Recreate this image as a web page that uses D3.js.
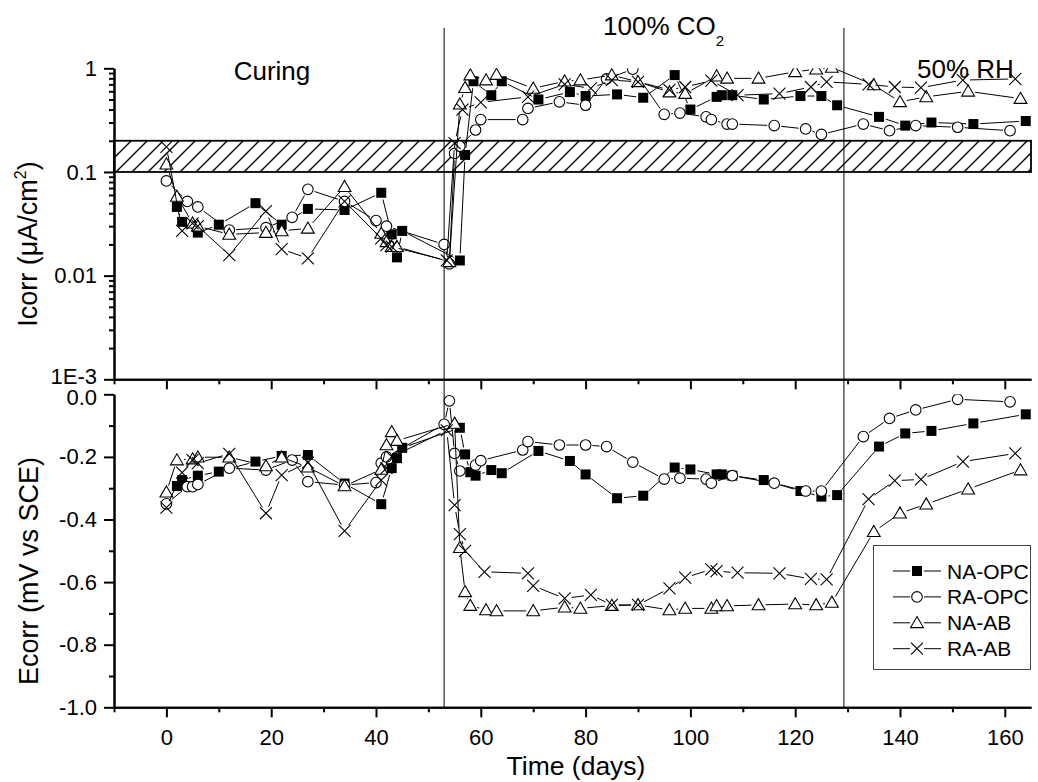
<!DOCTYPE html>
<html>
<head>
<meta charset="utf-8">
<script src="https://cdn.jsdelivr.net/npm/d3@7"></script>
<style>
  body { margin: 0; background: #fff; }
  svg text { font-family: "Liberation Sans", Arial, sans-serif; fill: #000; }
</style>
</head>
<body>
<div id="chart"></div>
<script>
// ---- data ----
var seriesNames = ["NA-OPC", "RA-OPC", "NA-AB", "RA-AB"];

var naOpcIDays = [2,3,6,10,17,22,27,34,41,43,44,45,56,57,58.6,62,64,71,77,80,86,91,97,100,105,106,108,114,121,125,128,136,141,146,154,164];
var naOpcI = [0.046,0.033,0.026,0.031,0.050,0.031,0.044,0.043,0.063,0.025,0.015,0.027,0.014,0.146,0.75,0.55,0.75,0.50,0.59,0.54,0.56,0.52,0.86,0.40,0.53,0.55,0.55,0.50,0.54,0.54,0.44,0.34,0.28,0.30,0.29,0.31];
var naOpcEDays = [2,3,6,10,17,22,27,34,41,43,44,45,56,57,58,59,62,64,71,77,80,86,91,97,100,105,106,108,114,121,125,128,136,141,146,154,164];
var naOpcE = [-0.293,-0.274,-0.26,-0.247,-0.215,-0.197,-0.194,-0.285,-0.351,-0.236,-0.204,-0.171,-0.107,-0.192,-0.249,-0.26,-0.242,-0.252,-0.181,-0.213,-0.256,-0.332,-0.324,-0.234,-0.24,-0.256,-0.256,-0.26,-0.274,-0.309,-0.327,-0.322,-0.167,-0.125,-0.117,-0.093,-0.064];

var raOpcIDays = [0,4,6,12,19,24,27,34,40,42,53,54,55,56,59,60,68,69,75,80,84,89,95,98,103,104,107,108,116,122,125,133,138,143,151,161];
var raOpcI = [0.082,0.052,0.046,0.0275,0.029,0.0365,0.068,0.052,0.034,0.030,0.020,0.013,0.151,0.177,0.254,0.32,0.32,0.41,0.475,0.44,0.79,0.98,0.36,0.37,0.34,0.32,0.29,0.29,0.28,0.26,0.23,0.29,0.25,0.28,0.27,0.25];
var raOpcEDays = [0,4,5,6,12,19,24,27,34,40,41,42,53,54,55,56,59,60,68,69,75,80,84,89,95,98,103,104,108,116,122,125,133,138,143,151,161];
var raOpcE = [-0.35,-0.295,-0.295,-0.288,-0.236,-0.242,-0.21,-0.279,-0.29,-0.282,-0.22,-0.2,-0.096,-0.021,-0.189,-0.245,-0.226,-0.212,-0.178,-0.151,-0.162,-0.162,-0.167,-0.217,-0.271,-0.268,-0.271,-0.284,-0.26,-0.284,-0.309,-0.309,-0.135,-0.077,-0.05,-0.016,-0.024];

var naAbIDays = [0,2,5,6,12,19,22,27,34,41,42,43,44,54,56,57,58,61,63,70,76,79,85,90,96,99,105,107,113,120,124,127,135,140,145,153,163];
var naAbI = [0.119,0.058,0.032,0.030,0.025,0.026,0.027,0.0286,0.072,0.0255,0.0212,0.019,0.019,0.0136,0.45,0.65,0.86,0.77,0.87,0.64,0.75,0.77,0.86,0.74,0.59,0.57,0.84,0.80,0.80,0.925,0.98,1.02,0.69,0.475,0.53,0.60,0.51];
var naAbEDays = [0,2,5,6,12,19,22,27,34,41,42,43,44,55,56,57,58,61,63,70,76,79,85,90,96,99,104,105,107,113,120,124,127,135,140,145,153,163];
var naAbE = [-0.313,-0.21,-0.207,-0.201,-0.201,-0.229,-0.201,-0.233,-0.293,-0.24,-0.162,-0.12,-0.148,-0.093,-0.49,-0.631,-0.675,-0.689,-0.692,-0.692,-0.68,-0.684,-0.675,-0.673,-0.689,-0.684,-0.684,-0.676,-0.676,-0.673,-0.67,-0.673,-0.665,-0.439,-0.38,-0.351,-0.303,-0.242];

var raAbIDays = [0,3,5,6,12,19,22,27,34,41,42,43,53.5,55,56.5,60,69,76,81,85,90,96,99,104,109,117,123,126,134,139,144,152,162];
var raAbI = [0.175,0.027,0.032,0.030,0.0158,0.042,0.018,0.0147,0.052,0.0229,0.0197,0.019,0.014,0.19,0.40,0.47,0.53,0.70,0.64,0.77,0.74,0.62,0.66,0.76,0.55,0.57,0.66,0.74,0.70,0.66,0.65,0.77,0.79];
var raAbEDays = [0,3,5,6,12,19,22,27,34,41,42,43,53.5,55,56,57,60.7,69,70,76,81,85,90,96,99,104,105,109,117,123,126,134,139,144,152,162];
var raAbE = [-0.362,-0.25,-0.21,-0.22,-0.19,-0.38,-0.258,-0.218,-0.436,-0.274,-0.236,-0.2,-0.115,-0.354,-0.447,-0.50,-0.567,-0.572,-0.612,-0.652,-0.641,-0.673,-0.673,-0.62,-0.586,-0.559,-0.565,-0.57,-0.572,-0.59,-0.591,-0.335,-0.276,-0.272,-0.215,-0.189];

var xMajor = [0,20,40,60,80,100,120,140,160];
var xMinor = [-10,10,30,50,70,90,110,130,150];
var icorrTicks = [0.001,0.01,0.1,1];
var icorrLabels = ["1E-3","0.01","0.1","1"];
var ecorrTicks = [0,-0.2,-0.4,-0.6,-0.8,-1.0];
var ecorrMinor = [-0.1,-0.3,-0.5,-0.7,-0.9];
var phaseLines = [53, 129.3];   // curing end, CO2 end
var band = [0.1, 0.2];          // hatched Icorr band

// ---- layout ----
var svg = d3.select("#chart").append("svg")
    .attr("width", 1038)
    .attr("height", 782);

var x = d3.scaleLinear().domain([-10, 165]).range([114, 1031]);
var yI = d3.scaleLog().domain([1e-3, 1]).range([379.3, 68.3]);
var yE = d3.scaleLinear().domain([-1, 0]).range([707.3, 394.3]);

var defs = svg.append("defs");
defs.append("clipPath").attr("id", "clipTop").append("rect")
    .attr("x", 100).attr("y", yI(1)).attr("width", 938).attr("height", yI(1e-3) - yI(1));
defs.append("clipPath").attr("id", "clipBot").append("rect")
    .attr("x", 100).attr("y", yE(0)).attr("width", 938).attr("height", yE(-1) - yE(0));

var hatch = defs.append("pattern").attr("id", "hatch")
    .attr("patternUnits", "userSpaceOnUse")
    .attr("width", 16).attr("height", 16);
hatch.append("path")
    .attr("d", "M0,16 L16,0 M-4,4 L4,-4 M12,20 L20,12")
    .attr("stroke", "#000").attr("stroke-width", 1.4);

// hatched band in Icorr panel
svg.append("rect")
    .attr("x", x(-10)).attr("width", x(165) - x(-10))
    .attr("y", yI(band[1])).attr("height", yI(band[0]) - yI(band[1]))
    .attr("fill", "url(#hatch)")
    .attr("stroke", "#000").attr("stroke-width", 1.8);

// phase divider lines through both panels
svg.selectAll(".phase").data(phaseLines).enter().append("line")
    .attr("class", "phase")
    .attr("x1", function(d){ return x(d); }).attr("x2", function(d){ return x(d); })
    .attr("y1", 28).attr("y2", yE(-1))
    .attr("stroke", "#000").attr("stroke-width", 1);

// ---- axes ----
function styleAxis(g){
    g.selectAll("path.domain").attr("stroke", "#000").attr("stroke-width", 2);
    g.selectAll(".tick line").attr("stroke", "#000").attr("stroke-width", 2);
    g.selectAll(".tick text").attr("font-size", 22).attr("fill", "#000")
        .attr("font-family", "Liberation Sans, Arial, sans-serif");
}

// top panel x axis (no labels)
var gx1 = svg.append("g").attr("transform", "translate(0," + yI(1e-3) + ")")
    .call(d3.axisBottom(x).tickValues(xMajor).tickSize(10).tickSizeOuter(0).tickFormat(""));
styleAxis(gx1);
var gx1m = svg.append("g").attr("transform", "translate(0," + yI(1e-3) + ")")
    .call(d3.axisBottom(x).tickValues(xMinor).tickSize(5).tickSizeOuter(0).tickFormat(""));
styleAxis(gx1m);

// bottom panel x axis
var gx2 = svg.append("g").attr("transform", "translate(0," + yE(-1) + ")")
    .call(d3.axisBottom(x).tickValues(xMajor).tickSize(10).tickSizeOuter(0).tickPadding(12)
        .tickFormat(function(d){ return String(d); }));
styleAxis(gx2);
var gx2m = svg.append("g").attr("transform", "translate(0," + yE(-1) + ")")
    .call(d3.axisBottom(x).tickValues(xMinor).tickSize(5).tickSizeOuter(0).tickFormat(""));
styleAxis(gx2m);

// Icorr log axis
var minorLog = [];
[-3, -2, -1].forEach(function(k){
    for (var m = 2; m <= 9; m++) minorLog.push(m * Math.pow(10, k));
});
var gyI = svg.append("g").attr("transform", "translate(" + x(-10) + ",0)")
    .call(d3.axisLeft(yI).tickValues(icorrTicks).tickSize(10).tickSizeOuter(0).tickPadding(7)
        .tickFormat(function(d, i){ return icorrLabels[i]; }));
styleAxis(gyI);
// lift the 1E-3 label a touch, it sits right on top of the 0.0 label
gyI.selectAll(".tick text").filter(function(d){ return d == 0.001; }).attr("dy", "0.2em");
var gyIm = svg.append("g").attr("transform", "translate(" + x(-10) + ",0)")
    .call(d3.axisLeft(yI).tickValues(minorLog).tickSize(5).tickSizeOuter(0).tickFormat(""));
styleAxis(gyIm);

// Ecorr axis
var gyE = svg.append("g").attr("transform", "translate(" + x(-10) + ",0)")
    .call(d3.axisLeft(yE).tickValues(ecorrTicks).tickSize(10).tickSizeOuter(0).tickPadding(7)
        .tickFormat(function(d){ return d.toFixed(1); }));
styleAxis(gyE);
gyE.selectAll(".tick text").filter(function(d){ return d == 0; }).attr("dy", "0.45em");
var gyEm = svg.append("g").attr("transform", "translate(" + x(-10) + ",0)")
    .call(d3.axisLeft(yE).tickValues(ecorrMinor).tickSize(5).tickSizeOuter(0).tickFormat(""));
styleAxis(gyEm);

// ---- markers / series ----
function drawMarker(g, shape, cx, cy){
    if (shape == "square") {
        g.append("rect").attr("x", cx - 5).attr("y", cy - 5).attr("width", 10).attr("height", 10)
            .attr("fill", "#000");
    } else if (shape == "circle") {
        g.append("circle").attr("cx", cx).attr("cy", cy).attr("r", 5.3)
            .attr("fill", "#fff").attr("stroke", "#000").attr("stroke-width", 1.1);
    } else if (shape == "triangle") {
        g.append("path")
            .attr("d", "M" + cx + "," + (cy - 6.3) + " L" + (cx + 6.4) + "," + (cy + 4.8) + " L" + (cx - 6.4) + "," + (cy + 4.8) + "Z")
            .attr("fill", "#fff").attr("stroke", "#000").attr("stroke-width", 1.1);
    } else {
        g.append("path")
            .attr("d", "M" + (cx - 6) + "," + (cy - 6) + " L" + (cx + 6) + "," + (cy + 6) + " M" + (cx - 6) + "," + (cy + 6) + " L" + (cx + 6) + "," + (cy - 6))
            .attr("stroke", "#000").attr("stroke-width", 1.1).attr("fill", "none");
    }
}

var gap = 7;
function drawSeries(g, days, vals, yScale, shape){
    var pts = days.map(function(d, i){ return [x(d), yScale(vals[i])]; });
    for (var i = 1; i < pts.length; i++) {
        var dx = pts[i][0] - pts[i-1][0], dy = pts[i][1] - pts[i-1][1];
        var len = Math.sqrt(dx*dx + dy*dy);
        if (len <= 2 * gap) continue;
        var ux = dx / len, uy = dy / len;
        g.append("line")
            .attr("x1", pts[i-1][0] + ux*gap).attr("y1", pts[i-1][1] + uy*gap)
            .attr("x2", pts[i][0] - ux*gap).attr("y2", pts[i][1] - uy*gap)
            .attr("stroke", "#000").attr("stroke-width", 1);
    }
    pts.forEach(function(p){ drawMarker(g, shape, p[0], p[1]); });
}

var gTop = svg.append("g").attr("clip-path", "url(#clipTop)");
var gBot = svg.append("g").attr("clip-path", "url(#clipBot)");
var shapes = ["square", "circle", "triangle", "cross"];

drawSeries(gTop, naOpcIDays, naOpcI, yI, shapes[0]);
drawSeries(gTop, raOpcIDays, raOpcI, yI, shapes[1]);
drawSeries(gTop, naAbIDays, naAbI, yI, shapes[2]);
drawSeries(gTop, raAbIDays, raAbI, yI, shapes[3]);

drawSeries(gBot, naOpcEDays, naOpcE, yE, shapes[0]);
drawSeries(gBot, raOpcEDays, raOpcE, yE, shapes[1]);
drawSeries(gBot, naAbEDays, naAbE, yE, shapes[2]);
drawSeries(gBot, raAbEDays, raAbE, yE, shapes[3]);

// ---- titles and annotations ----
var icT = svg.append("text").attr("transform", "translate(37,244) rotate(-90)")
    .attr("text-anchor", "middle").attr("font-size", 27);
icT.append("tspan").text("Icorr (\u03bcA/cm");
icT.append("tspan").attr("font-size", 16).attr("dy", -11).text("2");
icT.append("tspan").attr("dy", 11).text(")");

svg.append("text").attr("transform", "translate(38,571) rotate(-90)")
    .attr("text-anchor", "middle").attr("font-size", 27)
    .text("Ecorr (mV vs SCE)");

svg.append("text").attr("x", 576).attr("y", 775)
    .attr("text-anchor", "middle").attr("font-size", 26.5)
    .text("Time (days)");

svg.append("text").attr("x", 272).attr("y", 80)
    .attr("text-anchor", "middle").attr("font-size", 26)
    .text("Curing");

var co2 = svg.append("text").attr("x", 603).attr("y", 35).attr("font-size", 26);
co2.append("tspan").text("100% CO");
co2.append("tspan").attr("font-size", 15).attr("dy", 11).text("2");

svg.append("text").attr("x", 917).attr("y", 78).attr("font-size", 26)
    .text("50% RH");

// ---- legend ----
var leg = svg.append("g");
leg.append("rect").attr("x", 873.5).attr("y", 545.5).attr("width", 157).attr("height", 124)
    .attr("fill", "#fff").attr("stroke", "#444").attr("stroke-width", 1);
seriesNames.forEach(function(name, i){
    var cy = 571 + i * 25.9;
    leg.append("line").attr("x1", 893).attr("x2", 910).attr("y1", cy).attr("y2", cy)
        .attr("stroke", "#000").attr("stroke-width", 1);
    leg.append("line").attr("x1", 924).attr("x2", 941).attr("y1", cy).attr("y2", cy)
        .attr("stroke", "#000").attr("stroke-width", 1);
    drawMarker(leg, shapes[i], 917, cy);
    leg.append("text").attr("x", 947).attr("y", cy + 7.5).attr("font-size", 21).text(name);
});
</script>
</body>
</html>
